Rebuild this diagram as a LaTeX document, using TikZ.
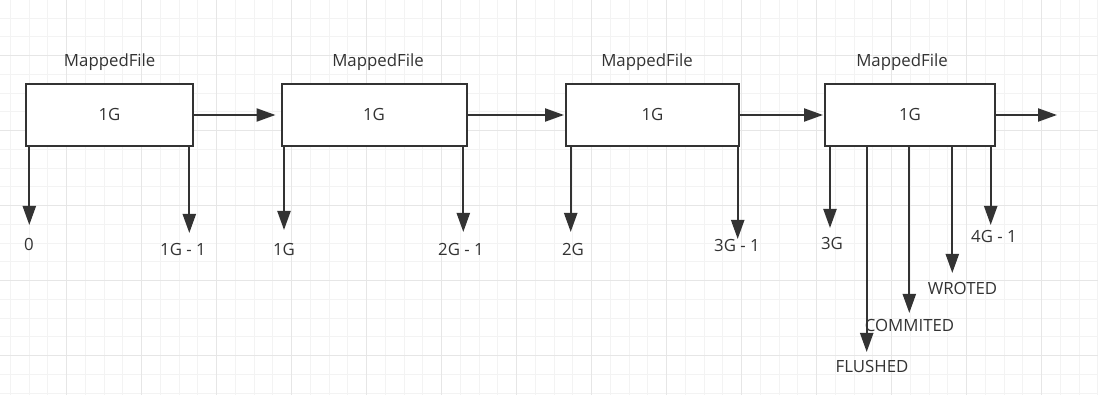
\documentclass[tikz,border=0pt]{standalone}
\usepackage{fontspec}
\setmainfont{Open Sans}
\usepackage{xcolor}
\usetikzlibrary{arrows.meta, positioning}

\definecolor{ink}{HTML}{333333}
\definecolor{gridlite}{HTML}{F3F3F3}
\definecolor{griddark}{HTML}{E6E6E6}

\begin{document}
\begin{tikzpicture}[
    x=1pt, y=-1pt,
    every node/.style={font=\fontsize{16.8}{20}\selectfont, text=ink},
    mapfile/.style={rectangle, draw=ink, line width=2pt, fill=white, minimum height=62pt, inner sep=0pt},
    link/.style={draw=ink, line width=2.2pt, -{Triangle[length=19pt, width=13pt]}},
    tag/.style={inner sep=1pt}
]
% Background grid
\fill[white] (0,0) rectangle (1098,395);
\useasboundingbox (0,0) rectangle (1098,395);
\foreach \i in {0,...,58} \draw[gridlite, line width=1pt] ({10.45+18.75*\i},0) -- ({10.45+18.75*\i},395);
\foreach \j in {-1,...,20} \draw[gridlite, line width=1pt] (0,{18.2+18.75*\j}) -- (1098,{18.2+18.75*\j});
\foreach \i in {0,...,14} \draw[griddark, line width=1pt] ({66.7+75*\i},0) -- ({66.7+75*\i},395);
\foreach \j in {0,...,4} \draw[griddark, line width=1pt] (0,{55.7+75*\j}) -- (1098,{55.7+75*\j});

% Mapped files
\node[mapfile, minimum width=167pt] (mf1) at (109.5,115) {1G};
\node[mapfile, minimum width=185pt] (mf2) at (374,115) {1G};
\node[mapfile, minimum width=173pt] (mf3) at (652.5,115) {1G};
\node[mapfile, minimum width=170pt] (mf4) at (910,115) {1G};

\node[tag] (name1) at (109.7,62) {MappedFile};
\node[tag] (name2) at (378,62) {MappedFile};
\node[tag] (name3) at (647,62) {MappedFile};
\node[tag] (name4) at (902,62) {MappedFile};

% Chain
\coordinate (tail) at (1057,115);
\draw[link] (mf1.east) -- ([xshift=-5pt]mf2.west);
\draw[link] (mf2.east) -- ([xshift=-1pt]mf3.west);
\draw[link] (mf3.east) -- ([xshift=-1pt]mf4.west);
\draw[link] (mf4.east) -- (tail);

% Offsets
\coordinate (off0) at (29.3,225);
\coordinate (off1) at (189.3,233);
\coordinate (off2) at (284,230);
\coordinate (off3) at (463.3,232);
\coordinate (off4) at (570.7,232);
\coordinate (off5) at (737.7,239);
\coordinate (off6) at (830,228);
\coordinate (flush) at (866.7,352);
\coordinate (commit) at (909.3,313);
\coordinate (wrote) at (952.3,273);
\coordinate (off7) at (990.7,225);

\draw[link] (mf1.south -| off0) -- (off0);
\draw[link] (mf1.south -| off1) -- (off1);
\draw[link] (mf2.south -| off2) -- (off2);
\draw[link] (mf2.south -| off3) -- (off3);
\draw[link] (mf3.south -| off4) -- (off4);
\draw[link] (mf3.south -| off5) -- (off5);
\draw[link] (mf4.south -| off6) -- (off6);
\draw[link] (mf4.south -| flush) -- (flush);
\draw[link] (mf4.south -| commit) -- (commit);
\draw[link] (mf4.south -| wrote) -- (wrote);
\draw[link] (mf4.south -| off7) -- (off7);

% Labels
\node[tag] (lab0) at (29,244) {0};
\node[tag] (lab1) at (183,250) {1G - 1};
\node[tag] (lab2) at (284,250) {1G};
\node[tag] (lab3) at (461,250) {2G - 1};
\node[tag] (lab4) at (573,250) {2G};
\node[tag] (lab5) at (737,246) {3G - 1};
\node[tag] (lab6) at (832,244) {3G};
\node[tag] (labflush) at (872,366) {FLUSHED};
\node[tag] (labcommit) at (909.5,325) {COMMITED};
\node[tag] (labwrote) at (962.5,288) {WROTED};
\node[tag] (lab7) at (994,237) {4G - 1};
\end{tikzpicture}
\end{document}
